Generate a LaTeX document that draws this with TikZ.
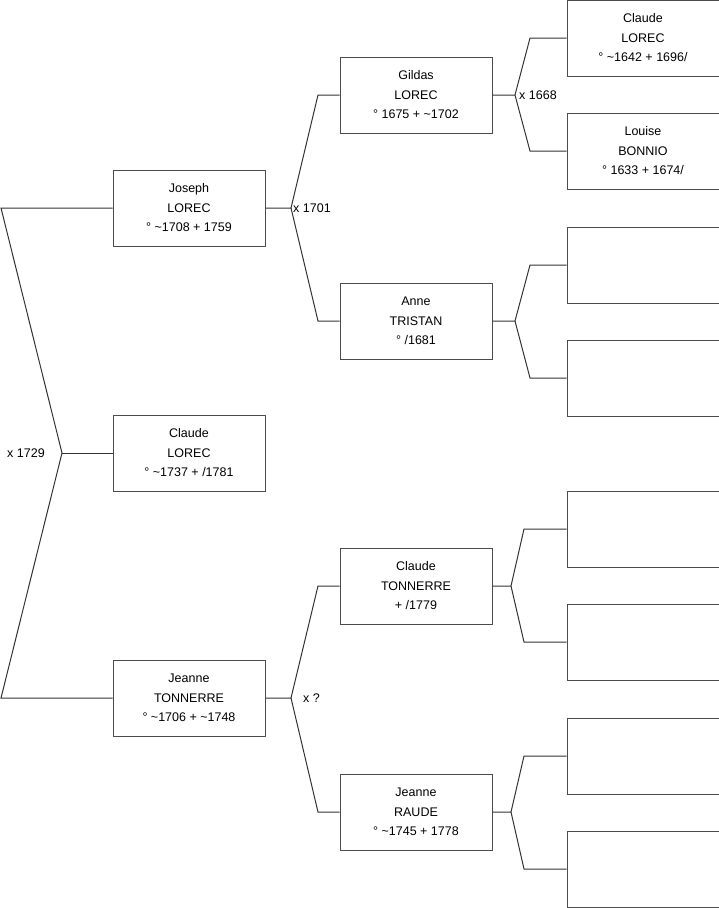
\documentclass[tikz,border=0pt]{standalone}
\usepackage{fontspec}
\setmainfont{Liberation Sans}
\usepackage{tikz}
\usetikzlibrary{positioning}
\tikzset{
  person/.style={rectangle,draw=black!70,line width=1pt,fill=white,minimum width=152pt,minimum height=76pt,inner sep=0pt,align=center,font=\fontsize{12.5}{19.5}\selectfont},
  link/.style={line width=1pt,black!80},
  lab/.style={font=\fontsize{12.5}{15}\selectfont,anchor=west,inner sep=1pt}
}
\begin{document}
\begin{tikzpicture}[x=1pt,y=-1pt]
  \useasboundingbox (0,0) rectangle (719,908);

  \node[person] (joseph) at (189,208) {Joseph\\LOREC\\° \textasciitilde1708 + 1759};
  \node[person] (claudeL) at (189,453) {Claude\\LOREC\\° \textasciitilde1737 + /1781};
  \node[person] (jeanneT) at (189,698) {Jeanne\\TONNERRE\\° \textasciitilde1706 + \textasciitilde1748};

  \node[person] (gildas) at (416,95) {Gildas\\LOREC\\° 1675 + \textasciitilde1702};
  \node[person] (anne) at (416,321) {Anne\\TRISTAN\\° /1681};
  \node[person] (claudeT) at (416,586) {Claude\\TONNERRE\\+ /1779};
  \node[person] (jeanneR) at (416,812) {Jeanne\\RAUDE\\° \textasciitilde1745 + 1778};

  \node[person] (claudeA) at (643,38) {Claude\\LOREC\\° \textasciitilde1642 + 1696/};
  \node[person] (louise) at (643,151) {Louise\\BONNIO\\° 1633 + 1674/};
  \node[person] (anneF) at (643,265) {};
  \node[person] (anneM) at (643,378) {};
  \node[person] (claudeTF) at (643,529) {};
  \node[person] (claudeTM) at (643,642) {};
  \node[person] (jeanneRF) at (643,756) {};
  \node[person] (jeanneRM) at (643,869) {};

  \coordinate (root) at (62,453);
  \coordinate (rootT) at (1,208);
  \coordinate (rootB) at (1,698);
  \draw[link] (joseph.west) -- (rootT) -- (root) -- (rootB) -- (jeanneT.west);
  \draw[link] (root) -- (claudeL.west);
  \node[lab] (m1729) at (6,453) {x 1729};

  \coordinate (fJ) at (291,208);
  \draw[link] (joseph.east) -- (fJ) -- (318,95) -- (gildas.west);
  \draw[link] (fJ) -- (318,321) -- (anne.west);
  \node[lab] (m1701) at (292,208) {x 1701};

  \coordinate (fT) at (291,698);
  \draw[link] (jeanneT.east) -- (fT) -- (318,586) -- (claudeT.west);
  \draw[link] (fT) -- (318,812) -- (jeanneR.west);
  \node[lab] (mT) at (302,698) {x ?};

  \coordinate (fG) at (515,95);
  \draw[link] (gildas.east) -- (fG) -- (530,38) -- (claudeA.west);
  \draw[link] (fG) -- (530,151) -- (louise.west);
  \node[lab] (m1668) at (518,95) {x 1668};

  \coordinate (fA) at (515,321);
  \draw[link] (anne.east) -- (fA) -- (530,265) -- (anneF.west);
  \draw[link] (fA) -- (530,378) -- (anneM.west);

  \coordinate (fC) at (511,586);
  \draw[link] (claudeT.east) -- (fC) -- (524,529) -- (claudeTF.west);
  \draw[link] (fC) -- (524,642) -- (claudeTM.west);

  \coordinate (fR) at (511,812);
  \draw[link] (jeanneR.east) -- (fR) -- (524,756) -- (jeanneRF.west);
  \draw[link] (fR) -- (524,869) -- (jeanneRM.west);
\end{tikzpicture}
\end{document}
